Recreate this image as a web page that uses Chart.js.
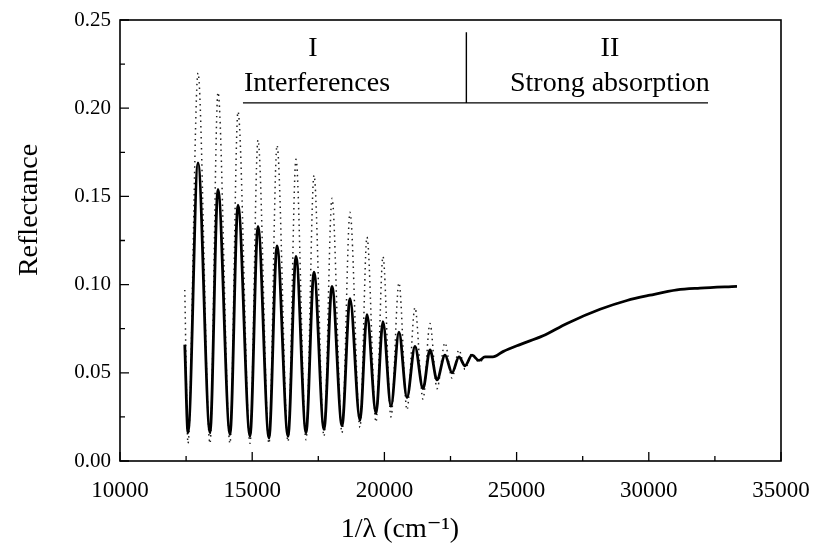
<!DOCTYPE html>
<html>
<head>
<meta charset="utf-8">
<script src="https://cdn.jsdelivr.net/npm/chart.js@4.4.1/dist/chart.umd.min.js"></script>
<style>
  body { margin: 0; background: #fff; }
  canvas { display: block; }
</style>
</head>
<body>
<canvas id="chart" width="814" height="548"></canvas>
<script>
// measured curve (solid) - wavenumber in cm-1, read at peaks and dips
const solidWavenumber = [
  12450, 12572, 12950, 13404, 13706, 14160, 14463, 14917, 15219, 15635,
  15938, 16354, 16656, 17035, 17337, 17715, 18018, 18396, 18699, 19077,
  19341, 19682, 19946, 20249, 20551, 20854, 21157, 21460, 21724, 21989,
  22292, 22557, 22821, 23048, 23313, 23577, 23804, 24100, 24485, 25128,
  26000, 26906, 28155, 29175, 30045, 31066, 31936, 33336
];
const solidReflectance = [
  0.066, 0.016, 0.169, 0.016, 0.154, 0.015, 0.145, 0.014, 0.133, 0.013,
  0.122, 0.014, 0.116, 0.016, 0.107, 0.018, 0.099, 0.020, 0.092, 0.023,
  0.083, 0.027, 0.079, 0.031, 0.073, 0.036, 0.065, 0.041, 0.063, 0.046,
  0.060, 0.050, 0.059, 0.054, 0.060, 0.057, 0.059, 0.059, 0.062, 0.066,
  0.071, 0.078, 0.086, 0.091, 0.094, 0.097, 0.098, 0.099
];

// dotted curve with the larger fringes
const dottedWavenumber = [
  12450, 12572, 12950, 13404, 13706, 14160, 14463, 14917, 15219, 15635,
  15938, 16354, 16656, 17035, 17337, 17715, 18018, 18396, 18699, 19077,
  19341, 19682, 19946, 20249, 20551, 20854, 21157, 21460, 21724, 21989,
  22292, 22557, 22821, 23048, 23313, 23577, 23804
];
const dottedReflectance = [
  0.097, 0.010, 0.220, 0.010, 0.209, 0.010, 0.198, 0.010, 0.182, 0.010,
  0.179, 0.011, 0.171, 0.012, 0.162, 0.014, 0.149, 0.016, 0.141, 0.019,
  0.127, 0.022, 0.116, 0.025, 0.101, 0.029, 0.087, 0.035, 0.078, 0.041,
  0.067, 0.047, 0.063, 0.052, 0.061, 0.056, 0.059
];

// region labels
const regionNames = ['I', 'II'];
const regionTitles = ['Interferences', 'Strong absorption'];
const regionStart = 14650;
const regionSplit = 23100;
const regionEnd = 32240;

const xTitle = '1/λ (cm⁻¹)';
const yTitle = 'Reflectance';

const serif = "'Liberation Serif', 'DejaVu Serif', serif";

function toPoints(xs, ys) {
  return xs.map((x, i) => ({ x: x, y: ys[i] }));
}

// box frame, inward ticks, axis titles and the region annotation
const framePlugin = {
  id: 'frame',
  afterDraw(chart) {
    const { ctx, chartArea: a, scales: { x, y } } = chart;
    ctx.save();
    ctx.strokeStyle = '#000';
    ctx.lineWidth = 1.6;
    ctx.strokeRect(a.left, a.top, a.right - a.left, a.bottom - a.top);

    ctx.lineWidth = 1.3;
    ctx.beginPath();
    for (let v = 10000; v <= 35000; v += 2500) {
      const px = x.getPixelForValue(v);
      const len = v % 5000 === 0 ? 9 : 5;
      ctx.moveTo(px, a.bottom);
      ctx.lineTo(px, a.bottom - len);
    }
    for (let i = 0; i <= 10; i++) {
      const py = y.getPixelForValue(i * 0.025);
      const len = i % 2 === 0 ? 9 : 5;
      ctx.moveTo(a.left, py);
      ctx.lineTo(a.left + len, py);
    }
    ctx.stroke();

    // region boxes
    const lineY = y.getPixelForValue(0.203);
    const topY = y.getPixelForValue(0.243);
    const x0 = x.getPixelForValue(regionStart);
    const x1 = x.getPixelForValue(regionSplit);
    const x2 = x.getPixelForValue(regionEnd);
    ctx.lineWidth = 1.4;
    ctx.beginPath();
    ctx.moveTo(x0, lineY);
    ctx.lineTo(x2, lineY);
    ctx.moveTo(x1, topY);
    ctx.lineTo(x1, lineY);
    ctx.stroke();

    ctx.fillStyle = '#000';
    ctx.textAlign = 'center';
    ctx.textBaseline = 'middle';
    ctx.font = '28px ' + serif;
    const centers = [17300, 28530];
    centers.forEach((c, i) => {
      const px = x.getPixelForValue(c);
      ctx.fillText(regionNames[i], px, y.getPixelForValue(0.234));
      ctx.fillText(regionTitles[i], px + (i === 0 ? 4 : 0), y.getPixelForValue(0.214));
    });

    // axis titles, placed like the original figure
    ctx.font = '28px ' + serif;
    ctx.fillText(xTitle, 400, 530);
    ctx.translate(30, 210);
    ctx.rotate(-Math.PI / 2);
    ctx.fillText(yTitle, 0, 0);
    ctx.restore();
  }
};

new Chart(document.getElementById('chart'), {
  type: 'line',
  data: {
    datasets: [
      {
        label: 'Measured',
        data: toPoints(solidWavenumber, solidReflectance),
        borderColor: '#000',
        borderWidth: 2.8,
        pointRadius: 0,
        fill: false,
        cubicInterpolationMode: 'monotone',
        order: 0
      },
      {
        label: 'Fringes',
        data: toPoints(dottedWavenumber, dottedReflectance),
        borderColor: '#222',
        borderWidth: 1.5,
        borderDash: [1.5, 4],
        pointRadius: 0,
        fill: false,
        cubicInterpolationMode: 'monotone',
        order: 1
      }
    ]
  },
  options: {
    responsive: false,
    animation: false,
    layout: { padding: { top: 20, right: 33, left: 0, bottom: 0 } },
    plugins: {
      legend: { display: false },
      tooltip: { enabled: false }
    },
    scales: {
      x: {
        type: 'linear',
        min: 10000,
        max: 35000,
        grid: { display: false, drawTicks: false },
        border: { display: false },
        ticks: {
          stepSize: 5000,
          padding: 16,
          maxRotation: 0,
          color: '#000',
          font: { family: serif, size: 23 },
          callback: v => String(v)
        },
        afterFit: s => {
          s.height = 87;
          s.paddingLeft = 0;
          s.paddingRight = 0;
        }
      },
      y: {
        min: 0,
        max: 0.25,
        grid: { display: false, drawTicks: false },
        border: { display: false },
        ticks: {
          stepSize: 0.05,
          padding: 9,
          color: '#000',
          font: { family: serif, size: 21 },
          callback: v => v.toFixed(2)
        },
        afterFit: s => {
          s.width = 120;
          s.paddingTop = 0;
          s.paddingBottom = 0;
        }
      }
    }
  },
  plugins: [framePlugin]
});
</script>
</body>
</html>
